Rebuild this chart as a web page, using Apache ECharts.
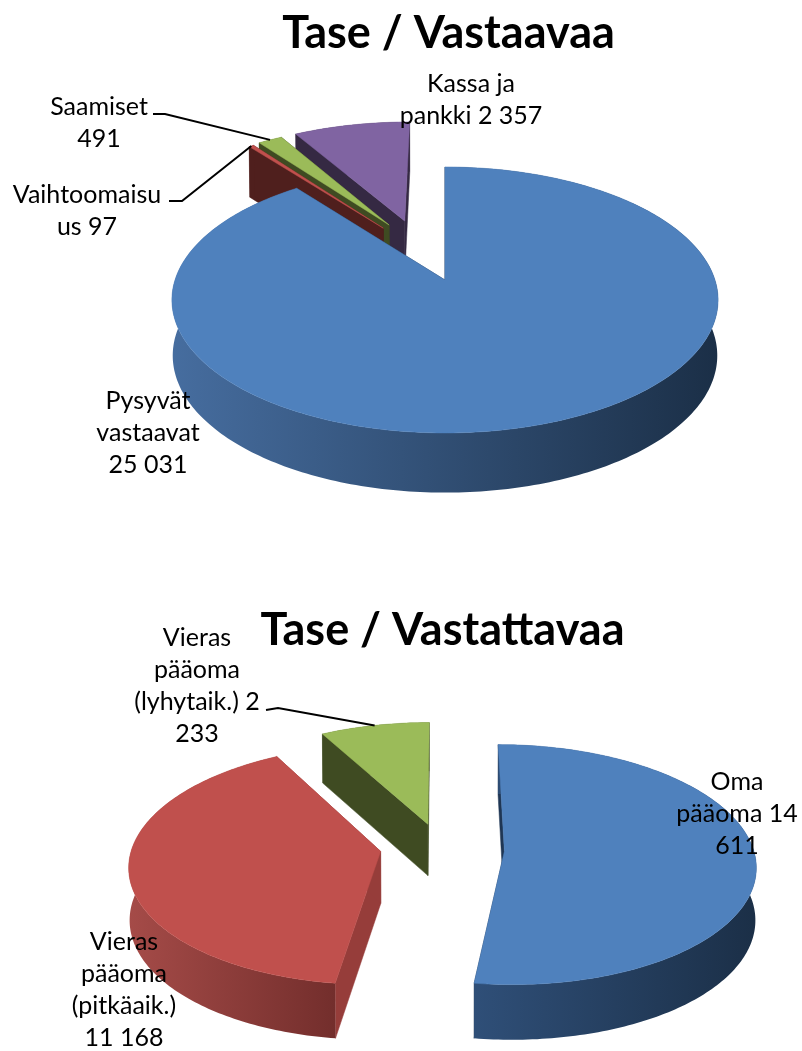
<!DOCTYPE html>
<html><head><meta charset="utf-8">
<style>html,body{margin:0;padding:0;background:#fff}#c{width:802px;height:1051px}</style>
<script src="https://cdn.jsdelivr.net/npm/echarts@6/dist/echarts.min.js"></script>
</head><body><div id="c"></div>
<script>
// ---- data ----
const assetCategories = ['Pysyvät vastaavat', 'Vaihtoomaisuus', 'Saamiset', 'Kassa ja pankki'];
const assetValues = [25031, 97, 491, 2357];
const assetLabels = [['Pysyvät','vastaavat','25 031'], ['Vaihtoomaisu','us 97'], ['Saamiset','491'], ['Kassa ja','pankki 2 357']];
const liabilityCategories = ['Oma pääoma', 'Vieras pääoma (pitkäaik.)', 'Vieras pääoma (lyhytaik.)'];
const liabilityValues = [14611, 11168, 2233];
const liabilityLabels = [['Oma','pääoma 14','611'], ['Vieras','pääoma','(pitkäaik.)','11 168'], ['Vieras','pääoma','(lyhytaik.) 2','233']];

// ---- layout and style ----
const FONT = 'Lato, Carlito, "Open Sans", sans-serif';
const LABEL_SIZE = 25, LINE_H = 32;
const assetLook = {
  cx:445, cy:280, rx:270, ry:130, k:0.15, depth:55,
  explode:[[0,0],[-0.243,-0.424],[-0.221,-0.452],[-0.16,-0.487]],
  rank:[3,2,1,0],
  top:['#4f81bd','#c0504d','#9bbb59','#8064a2'],
  wall:['#1f3654','#4f1f1d','#3f4b22','#352943'],
  rimWall:[['#466d9f','#1b2f47'],['#4f1f1d','#4f1f1d'],['#3f4b22','#3f4b22'],['#352943','#352943']],
  labelX:[148,87,99,471], labelY:[401,195,107,84],
  leader:[null,[[169,201],[182,201]],[[153,114],[165,114]],null]
};
const liabilityLook = {
  cx:442, cy:849, rx:249, ry:118, k:0.11, depth:52,
  explode:[[0.25,0.02],[-0.246,0.02],[-0.058,-0.215]],
  rank:[2,1,0],
  top:['#4f81bd','#c0504d','#9bbb59'],
  wall:['#1f3654','#963d3a','#3f4b22'],
  rimWall:[['#2f4f78','#1b2f47'],['#a54b48','#732e2c'],['#3f4b22','#3f4b22']],
  labelX:[737,124,197], labelY:[782,942,638],
  leader:[null,null,[[266,710],[278,708]]]
};

function pieRenderer(values, labels, L){
  const total = values.reduce((a,b)=>a+b,0);
  const project = (u,v)=>{
    const s = 1/(1-L.k*v);
    return {x:L.cx+L.rx*u*s, y:L.cy+L.ry*v*s, s};
  };
  const down = p=>[p.x-(p.x-L.cx)*0.003, p.y+L.depth*Math.sqrt(p.s)];
  const up = p=>[p.x,p.y];
  return function(params, api){
    const i = params.dataIndex;
    const value = api.value(0);
    let before = 0;
    for(let j=0;j<i;j++) before += values[j];
    const a0 = before/total*Math.PI*2, a1 = (before+value)/total*Math.PI*2;
    const [u0,v0] = L.explode[i];
    const at = a=>project(u0+Math.sin(a), v0-Math.cos(a));
    const apex = project(u0,v0);
    const n = Math.max(2, Math.ceil((a1-a0)/(Math.PI/180)));
    const rim = [];
    for(let j=0;j<=n;j++) rim.push(at(a0+(a1-a0)*j/n));
    const z = L.rank[i]*10;
    const poly = (points,fill,z2)=>({type:'polygon',shape:{points},z2,
      style:{fill,stroke:typeof fill==='string'?fill:null,lineWidth:typeof fill==='string'?0.5:0}});
    const children = [];
    const wallOf = p=>poly([up(p),up(apex),down(apex),down(p)],L.wall[i],z);
    children.push(wallOf(rim[0]));
    children.push(wallOf(rim[n]));
    const rw = L.rimWall[i];
    children.push(poly(rim.map(up).concat(rim.slice().reverse().map(down)),
      {type:'linear',x:0,y:0,x2:1,y2:0,colorStops:[{offset:0,color:rw[0]},{offset:1,color:rw[1]}]},z+1));
    children.push(poly([up(apex)].concat(rim.map(up)),L.top[i],z+2));
    // leader line to the middle of the rim
    if(L.leader[i]){
      const m = at((a0+a1)/2);
      children.push({type:'polyline',z2:200,shape:{points:L.leader[i].concat([[m.x,m.y]])},
        style:{stroke:'#000',lineWidth:2,fill:null}});
    }
    labels[i].forEach((t,j)=>children.push({type:'text',z2:300,
      style:{text:t,x:L.labelX[i],y:L.labelY[i]+j*LINE_H,align:'center',verticalAlign:'middle',
        font:LABEL_SIZE+'px '+FONT,fill:'#000'}}));
    return {type:'group',children};
  };
}
const toData = (cats,vals)=>cats.map((name,i)=>({name,value:[vals[i]]}));

const chart = echarts.init(document.getElementById('c'),null,{renderer:'canvas'});
chart.setOption({
  animation:false,
  backgroundColor:'#fff',
  title:[
    {text:'Tase / Vastaavaa',left:443.5,top:28,textAlign:'center',textVerticalAlign:'middle',
     textStyle:{fontFamily:FONT,fontSize:45,fontWeight:'bold',color:'#000'}},
    {text:'Tase / Vastattavaa',left:437.5,top:625,textAlign:'center',textVerticalAlign:'middle',
     textStyle:{fontFamily:FONT,fontSize:45,fontWeight:'bold',color:'#000'}}
  ],
  series:[
    {type:'custom',coordinateSystem:'none',clip:false,silent:true,
     renderItem:pieRenderer(assetValues,assetLabels,assetLook),
     data:toData(assetCategories,assetValues)},
    {type:'custom',coordinateSystem:'none',clip:false,silent:true,
     renderItem:pieRenderer(liabilityValues,liabilityLabels,liabilityLook),
     data:toData(liabilityCategories,liabilityValues)}
  ]
});
</script></body></html>
